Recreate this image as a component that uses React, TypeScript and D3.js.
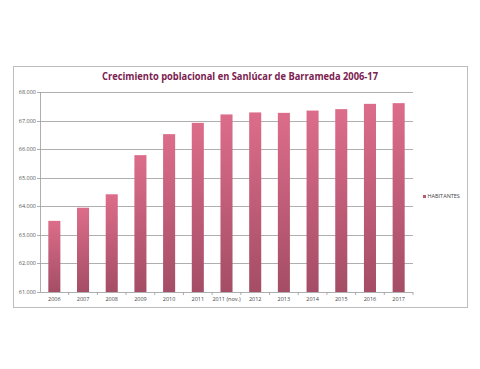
import React from "react";
import * as d3 from "d3";

const categories = ["2006","2007","2008","2009","2010","2011","2011 (nov.)","2012","2013","2014","2015","2016","2017"];
const habitantes = [63490,63950,64420,65790,66525,66920,67215,67285,67270,67350,67400,67585,67610];
const yTicks = [61000,62000,63000,64000,65000,66000,67000,68000];
const seriesName = "HABITANTES";
const title = "Crecimiento poblacional en Sanlúcar de Barrameda 2006-17";

export default function App() {
  const W = 480, H = 369;
  const left = 40, right = 413, top = 92, bottom = 292;
  const x = d3.scaleBand().domain(categories).range([left, right]).paddingInner(0.58).paddingOuter(0.29);
  const y = d3.scaleLinear().domain([61000, 68000]).range([bottom, top]);
  const fmt = (v: number) => d3.format(",")(v).replace(/,/g, ".");
  const step = (right - left) / categories.length;
  return (
    <svg width={W} height={H} style={{ position: "absolute", left: 0, top: 0, fontFamily: "'Open Sans', sans-serif" }}>
      <defs>
        <linearGradient id="barGrad" x1="0" y1="0" x2="0" y2="1">
          <stop offset="0%" stopColor="#dc6d8a" />
          <stop offset="100%" stopColor="#a54d66" />
        </linearGradient>
      </defs>
      <rect x={0} y={0} width={W} height={H} fill="#ffffff" />
      <rect x={13.5} y={66.5} width={454} height={241} fill="#ffffff" stroke="#bdbdbd" strokeWidth={1} />
      <text x={240} y={80} textAnchor="middle" fontSize={11.2} fontWeight="bold" fill="#7b2150" textLength={276} lengthAdjust="spacingAndGlyphs">{title}</text>
      {yTicks.map(t => (
        <g key={t}>
          <line x1={left - 3} x2={right} y1={Math.round(y(t)) + 0.5} y2={Math.round(y(t)) + 0.5} stroke="#9a9a9a" strokeWidth={0.8} />
          <text x={36} y={y(t) + 2} textAnchor="end" fontSize={5.5} fill="#555">{fmt(t)}</text>
        </g>
      ))}
      <line x1={left + 0.5} x2={left + 0.5} y1={top} y2={bottom} stroke="#9a9a9a" strokeWidth={0.8} />
      {categories.map((c, i) => (
        <line key={"tk" + i} x1={left + step * (i + 1)} x2={left + step * (i + 1)} y1={bottom} y2={bottom + 3} stroke="#9a9a9a" strokeWidth={0.8} />
      ))}
      {categories.map((c, i) => (
        <rect key={c} x={x(c)} y={y(habitantes[i])} width={x.bandwidth()} height={bottom - y(habitantes[i])} fill="url(#barGrad)" />
      ))}
      {categories.map(c => (
        <text key={"l" + c} x={(x(c) as number) + x.bandwidth() / 2} y={301} textAnchor="middle" fontSize={5.5} fill="#444">{c}</text>
      ))}
      <rect x={423} y={195} width={3} height={3} fill="#b85a74" />
      <text x={427.5} y={198.2} fontSize={5.5} fill="#444">{seriesName}</text>
    </svg>
  );
}
